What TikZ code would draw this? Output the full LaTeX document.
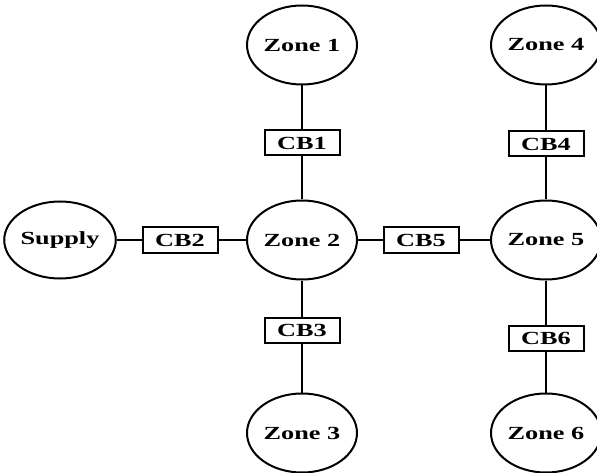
\documentclass[tikz,border=0pt]{standalone}
\usepackage{fontspec}
\setmainfont{Liberation Serif}
\usepackage{graphicx}
\usetikzlibrary{shapes.geometric}
\newcommand{\wtxt}[1]{\scalebox{1.42}[1]{\bfseries #1}}
\tikzset{
  zone/.style={ellipse,draw,line width=2pt,minimum width=110pt,minimum height=79pt,inner sep=0pt,font=\fontsize{18.5}{18.5}\selectfont},
  cb/.style={rectangle,draw,line width=2pt,minimum width=75pt,minimum height=25pt,inner sep=0pt,font=\fontsize{18.5}{18.5}\selectfont},
  wire/.style={line width=2pt}
}
\begin{document}
\begin{tikzpicture}[x=1pt,y=-1pt]
\useasboundingbox (0,0) rectangle (597,473);
\node[zone] (z1) at (302,45) {\wtxt{Zone 1}};
\node[zone] (z2) at (302,240) {\wtxt{Zone 2}};
\node[zone] (z3) at (302,433) {\wtxt{Zone 3}};
\node[zone] (z4) at (546,45) {\wtxt{Zone 4}};
\node[zone] (z5) at (546,240) {\wtxt{Zone 5}};
\node[zone] (z6) at (546,433) {\wtxt{Zone 6}};
\node[zone,minimum width=106pt,minimum height=77pt] (s) at (60,240) {\wtxt{Supply}};
\node[cb] (cb1) at (302,143) {\wtxt{CB1}};
\node[cb] (cb3) at (302,330) {\wtxt{CB3}};
\node[cb] (cb4) at (546,144) {\wtxt{CB4}};
\node[cb] (cb6) at (546,338) {\wtxt{CB6}};
\node[cb] (cb2) at (180,240) {\wtxt{CB2}};
\node[cb] (cb5) at (421,240) {\wtxt{CB5}};
\draw[wire] (z1) -- (cb1) -- (z2);
\draw[wire] (z2) -- (cb3) -- (z3);
\draw[wire] (z4) -- (cb4) -- (z5);
\draw[wire] (z5) -- (cb6) -- (z6);
\draw[wire] (s) -- (cb2) -- (z2);
\draw[wire] (z2) -- (cb5) -- (z5);
\end{tikzpicture}
\end{document}
